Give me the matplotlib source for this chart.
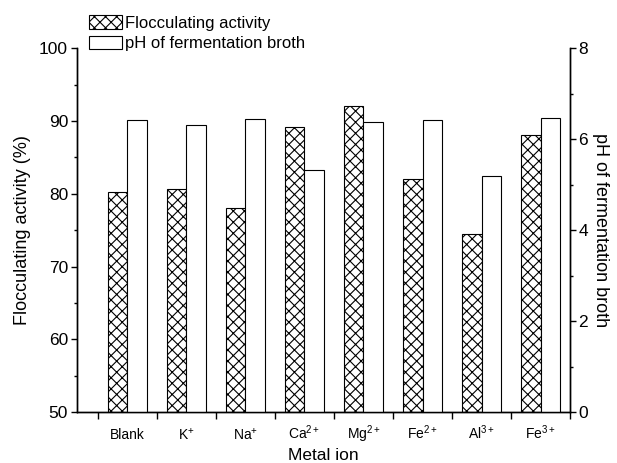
import numpy as np
import matplotlib
matplotlib.use("Agg")
import matplotlib.pyplot as plt
from matplotlib.patches import Patch

plt.rcParams["font.family"] = ["Liberation Sans", "DejaVu Sans"]
plt.rcParams["mathtext.fontset"] = "custom"
plt.rcParams["mathtext.rm"] = "Liberation Sans"
plt.rcParams["mathtext.it"] = "Liberation Sans"
plt.rcParams["hatch.linewidth"] = 0.8

IONS = ["Blank", "K$^{+}$", "Na$^{+}$", "Ca$^{2+}$", "Mg$^{2+}$",
        "Fe$^{2+}$", "Al$^{3+}$", "Fe$^{3+}$"]
FLOC = [80.3, 80.7, 78.0, 89.1, 92.0, 82.0, 74.4, 88.0]
PH = [6.43, 6.31, 6.45, 5.33, 6.37, 6.41, 5.19, 6.47]


def main():
    fig = plt.figure(figsize=(6.17, 4.63), dpi=100)
    ax = fig.add_axes([0.125, 0.110, 0.799, 0.786])
    ax2 = ax.twinx()

    x = np.arange(1, len(IONS) + 1)
    w = 0.33
    ax.bar(x - w / 2, [v - 50 for v in FLOC], w, bottom=50, facecolor="white",
           edgecolor="black", hatch="xxx", linewidth=0.8)
    ax2.bar(x + w / 2, PH, w, facecolor="white", edgecolor="black", linewidth=0.8)

    ax.set_xlim(0.15, 8.5)
    ax.set_ylim(50, 100)
    ax2.set_ylim(0, 8)

    ax.set_yticks([50, 60, 70, 80, 90, 100])
    ax.set_yticks([55, 65, 75, 85, 95], minor=True)
    ax2.set_yticks([0, 2, 4, 6, 8])
    ax2.set_yticks([1, 3, 5, 7], minor=True)

    # boundary ticks are marks only, the names sit on minor ticks of zero length
    ax.set_xticks(np.arange(0.5, 8.6, 1.0))
    ax.set_xticklabels([])
    ax.set_xticks(x, minor=True)
    ax.set_xticklabels(IONS, minor=True, fontsize=10)
    for lab in ax.get_xticklabels(minor=True):
        lab.set_verticalalignment("baseline")
    ax.tick_params(axis="x", which="major", direction="out", length=5, width=1)
    ax.tick_params(axis="x", which="minor", length=0, pad=19.5)

    ax.tick_params(axis="y", which="major", direction="out", length=4.5, width=1,
                   labelsize=12.5, pad=2)
    ax.tick_params(axis="y", which="minor", direction="out", length=2.5, width=1)
    ax2.tick_params(axis="y", which="major", direction="out", length=4, width=1,
                    labelsize=12.5, pad=2)
    ax2.tick_params(axis="y", which="minor", direction="out", length=2.5, width=1)

    for a in (ax, ax2):
        a.spines["top"].set_visible(False)
        for s in ("left", "right", "bottom"):
            a.spines[s].set_linewidth(1.0)

    ax.set_xlabel("Metal ion", fontsize=12.5, va="top")
    ax.xaxis.set_label_coords(0.5, -0.1)
    ax.set_ylabel("Flocculating activity (%)", fontsize=13, labelpad=6)
    ax2.set_ylabel("pH of fermentation broth", fontsize=13, rotation=270,
                   labelpad=15)

    handles = [Patch(facecolor="white", edgecolor="black", hatch="xxx", linewidth=0.8),
               Patch(facecolor="white", edgecolor="black", linewidth=0.8)]
    fig.legend(handles, ["Flocculating activity", "pH of fermentation broth"],
               loc="upper left", bbox_to_anchor=(0.125, 0.993), frameon=False,
               fontsize=12, handlelength=2.0, handleheight=0.9,
               handletextpad=0.15, labelspacing=0.3, borderaxespad=0.3)

    fig.savefig("out.png", dpi=100)


if __name__ == "__main__":
    main()
